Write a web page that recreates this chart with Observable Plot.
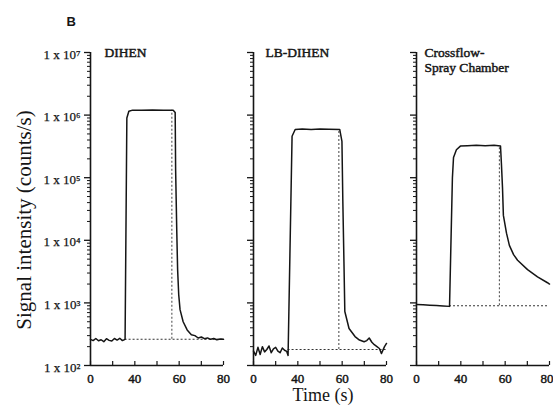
<!DOCTYPE html>
<html><head><meta charset="utf-8">
<script src="https://cdn.jsdelivr.net/npm/d3@7"></script>
<script src="https://cdn.jsdelivr.net/npm/@observablehq/plot@0.6"></script>
<style>
html,body{margin:0;padding:0;background:#fff;}
#chart{width:553px;height:406px;overflow:hidden;}
</style></head><body><div id="chart"></div>
<script>
// ---- panels ----
const panelKeys = ["DIHEN", "LB-DIHEN", "Crossflow"];
const panelTitles = ["DIHEN", "LB-DIHEN", "Crossflow-\nSpray Chamber"];

// ---- signal traces (time in axis units, signal in counts/s) ----
const dihenTime = [0, 1.2, 2.4, 3.6, 4.8, 6, 7.2, 8.4, 9.6, 10.8, 12, 13.2, 14.4, 15.6, 16.4, 17.3, 19, 23, 28, 33, 37.3, 38.2, 38.4, 38.9, 39.3, 39.8, 40.4, 41.8, 43.6, 45.5, 47.1, 48.6, 50, 51.4, 52.8, 54.2, 55.6, 57, 58.5, 60];
const dihenSignal = [262, 250, 270, 248, 258, 240, 268, 252, 246, 270, 255, 272, 250, 262, 9.0e5, 1.15e6, 1.2e6, 1.19e6, 1.21e6, 1.2e6, 1.2e6, 1.1e6, 1.35e5, 1.5e4, 3.4e3, 1.35e3, 780, 500, 370, 310, 300, 275, 285, 268, 276, 262, 270, 258, 266, 262];

const lbTime = [0, 1, 2, 3, 4, 5, 6, 7, 8, 9, 10, 11, 12, 13, 14, 15, 15.6, 17.4, 18.8, 22, 26, 30, 34, 38.9, 39.9, 40.3, 40.8, 41.2, 43.1, 45.8, 47.8, 49.9, 51.1, 52.2, 53.4, 54.5, 55.7, 56.8, 57.7, 59.1, 60];
const lbSignal = [170, 145, 195, 150, 200, 165, 180, 205, 160, 185, 195, 170, 160, 190, 175, 168, 145, 4.6e5, 5.9e5, 6.0e5, 5.9e5, 6.0e5, 5.95e5, 5.9e5, 3.8e5, 4.2e4, 4.6e3, 730, 390, 290, 255, 240, 250, 275, 235, 215, 200, 187, 155, 200, 225];

const cfTime = [0, 3, 6, 9, 12, 14.9, 16.2, 16.7, 18.0, 19.8, 23, 27, 31, 35, 37.9, 38.3, 38.8, 39.2, 40.6, 41.9, 43.8, 45.6, 50.1, 54.6, 59.1, 60];
const cfSignal = [940, 930, 920, 905, 890, 880, 1.0e5, 2.1e5, 2.8e5, 3.2e5, 3.25e5, 3.3e5, 3.25e5, 3.3e5, 3.2e5, 1.7e5, 6.9e4, 2.5e4, 1.3e4, 8.3e3, 5.9e3, 4.8e3, 3.4e3, 2.6e3, 2.1e3, 2.0e3];

// ---- ideal (dotted) reference pulse per panel ----
const riseTime = [15.6, 15.6, 14.9];
const fallTime = [36.7, 38.5, 37.4];
const baseLevel = [262, 180, 900];
const plateauLevel = [1.2e6, 5.9e5, 3.25e5];

// ---- axes ----
const decades = [1e2, 1e3, 1e4, 1e5, 1e6, 1e7];
const decadeLabels = ["1 x 10²", "1 x 10³", "1 x 10⁴", "1 x 10⁵", "1 x 10⁶", "1 x 10⁷"];
const minorMultipliers = [2, 3, 4, 5, 6, 7, 8, 9];
const xTicks = [0, 10, 20, 30, 40, 50, 60];
const xLabelTicks = [0, 20, 40, 60];
const xTickLabels = ["0", "40", "60", "80"];
const yTitle = "Signal intensity (counts/s)";
const xTitle = "Time (s)";
const panelLetter = "B";

// ---- build tables ----
const traces = [
  [dihenTime, dihenSignal], [lbTime, lbSignal], [cfTime, cfSignal]
].flatMap(([T, S], p) => T.map((t, i) => ({panel: panelKeys[p], t, v: S[i]})));
const refs = panelKeys.map((panel, i) => ({panel, rise: riseTime[i], fall: fallTime[i], base: baseLevel[i], top: plateauLevel[i]}));
const titles = panelKeys.map((panel, i) => ({panel, title: panelTitles[i]}));
const yLabels = decades.map((v, i) => ({panel: panelKeys[0], v, label: decadeLabels[i]}));
const xLabels = panelKeys.flatMap((panel, p) => xLabelTicks.map((t, i) => ({panel, t, label: xTickLabels[i], edge: p === panelKeys.length - 1 && i === xLabelTicks.length - 1})));
const minorTicks = decades.slice(0, -1).flatMap(d => minorMultipliers.map(m => m * d));

const serif = "Liberation Serif";
const ink = "#151515";
const titleOffsets = [14, 12, 8];
// heavy "scanned" serif look: regular weight with a thin outline
const heavy = {fontFamily: serif, fontWeight: "normal", fill: ink, stroke: ink, strokeWidth: 0.45};

const chart = Plot.plot({
  width: 553, height: 406,
  marginLeft: 89, marginRight: 4, marginTop: 52, marginBottom: 41,
  style: {fontFamily: serif, background: "#fff", color: ink, overflow: "visible"},
  x: {domain: [0, 60], axis: null},
  y: {type: "log", domain: [100, 1e7], axis: null},
  fx: {domain: panelKeys, paddingInner: 0.1865, paddingOuter: 0, axis: null},
  marks: [
    // y axis minor + major ticks (every panel)
    Plot.ruleY(minorTicks, {y: d => d, x1: () => 0, x2: () => 0, insetLeft: -3, stroke: ink, strokeWidth: 1}),
    Plot.ruleY(decades, {y: d => d, x1: () => 0, x2: () => 0, insetLeft: -6, stroke: ink, strokeWidth: 1.3}),
    // x ticks
    Plot.ruleX(xTicks, {x: d => d, y1: () => 100, y2: () => 100, insetTop: -4, stroke: ink, strokeWidth: 1.2}),
    // axis lines
    Plot.ruleX([0], {stroke: ink, strokeWidth: 1.6}),
    Plot.ruleY([100], {stroke: ink, strokeWidth: 1.6}),
    // dotted reference pulse
    Plot.ruleY(refs, {fx: "panel", y: "base", x1: "rise", x2: () => 60, stroke: "#333", strokeWidth: 1.1, strokeDasharray: "2,2"}),
    Plot.ruleX(refs, {fx: "panel", x: "fall", y1: "base", y2: "top", stroke: "#555", strokeWidth: 1.1, strokeDasharray: "2,2"}),
    // measured signal
    Plot.line(traces, {fx: "panel", x: "t", y: "v", z: "panel", stroke: ink, strokeWidth: 1.5, strokeLinejoin: "round"}),
    // panel titles
    ...panelKeys.map((k, i) => Plot.text(titles, {filter: d => d.panel === k, fx: "panel", x: () => 0, y: () => 1e7, text: "title",
      textAnchor: "start", lineAnchor: "top", dx: titleOffsets[i], dy: -6, fontSize: 13.5, lineHeight: 1.12, ...heavy})),
    // y tick labels (first panel)
    Plot.text(yLabels, {fx: "panel", x: () => 0, y: "v", text: "label", textAnchor: "end", dx: -10, dy: 2, fontSize: 13, ...heavy, strokeWidth: 0.25}),
    // x tick labels (every panel)
    Plot.text(xLabels, {filter: d => !d.edge, fx: "panel", x: "t", y: () => 100, text: "label", dy: 13, fontSize: 13, ...heavy}),
    Plot.text(xLabels, {filter: d => d.edge, fx: "panel", x: "t", y: () => 100, text: "label", textAnchor: "end", dx: 4, dy: 13, fontSize: 13, ...heavy}),
    // y title
    Plot.text([yTitle], {fx: () => panelKeys[0], frameAnchor: "left", text: d => d, rotate: -90, textAnchor: "middle", dx: -66, dy: 11, fontSize: 21, fontFamily: serif, fill: ink}),
    // x title
    Plot.text([xTitle], {fx: () => panelKeys[1], x: () => 30, y: () => 100, text: d => d, dx: 3, dy: 30, fontSize: 18, fontFamily: serif, fill: ink}),
    // panel letter
    Plot.text([panelLetter], {fx: () => panelKeys[0], frameAnchor: "top-left", text: d => d, lineAnchor: "middle", textAnchor: "start",
      dx: -24, dy: -31, fontSize: 13, fontWeight: "bold", fontFamily: "Liberation Sans", fill: ink})
  ]
});
document.getElementById("chart").appendChild(chart);
</script></body></html>
